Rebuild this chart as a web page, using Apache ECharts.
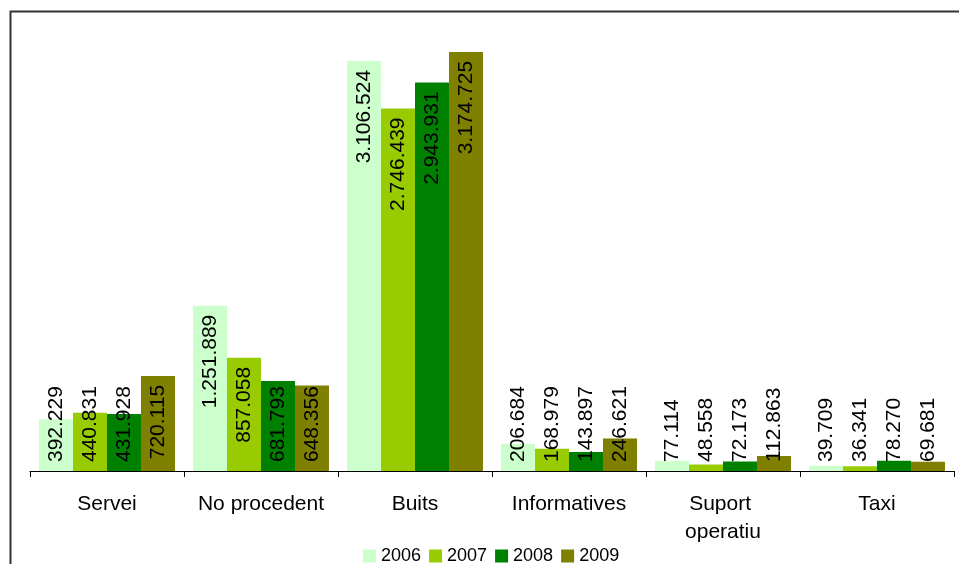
<!DOCTYPE html>
<html>
<head>
<meta charset="utf-8">
<script src="https://cdn.jsdelivr.net/npm/echarts@6/dist/echarts.min.js"></script>
<style>
html,body{margin:0;padding:0;background:#fff;}
#chart{width:959px;height:564px;}
</style>
</head>
<body>
<div id="chart"></div>
<script>
const categories = ['Servei', 'No procedent', 'Buits', 'Informatives', 'Suport operatiu', 'Taxi'];
const seriesNames = ['2006', '2007', '2008', '2009'];
const values2006 = [392229, 1251889, 3106524, 206684, 77114, 39709];
const values2007 = [440831, 857058, 2746439, 168979, 48558, 36341];
const values2008 = [431928, 681793, 2943931, 143897, 72173, 78270];
const values2009 = [720115, 648356, 3174725, 246621, 112863, 69681];
const colors = ['#CCFFCC', '#99CC00', '#008000', '#808000'];

const allValues = [values2006, values2007, values2008, values2009];

function fmt(v) {
  return String(v).replace(/\B(?=(\d{3})+(?!\d))/g, '.');
}

function makeData(arr) {
  return arr.map(function (v) {
    const tall = v > 700000;
    return {
      value: v,
      label: tall
        ? { position: 'insideTop', align: 'right', verticalAlign: 'middle', distance: 9 }
        : { position: 'insideBottom', align: 'left', verticalAlign: 'middle', distance: 9 }
    };
  });
}

const chart = echarts.init(document.getElementById('chart'), null, { renderer: 'canvas' });

const option = {
  animation: false,
  backgroundColor: '#ffffff',
  textStyle: { fontFamily: 'Liberation Sans, Arial, sans-serif' },
  grid: { left: 30, right: 5, top: 9, bottom: 93, containLabel: false },
  legend: {
    data: seriesNames,
    top: 547,
    left: 363,
    padding: 0,
    itemWidth: 13,
    itemHeight: 13,
    itemGap: 8,
    icon: 'rect',
    textStyle: { fontSize: 18, color: '#000', fontFamily: 'Liberation Sans, Arial, sans-serif' }
  },
  xAxis: {
    type: 'category',
    data: categories,
    axisLine: { lineStyle: { color: '#000', width: 1 } },
    axisTick: { show: true, length: 6, lineStyle: { color: '#000' } },
    axisLabel: {
      color: '#000',
      fontSize: 21,
      margin: 19,
      lineHeight: 28,
      width: 140,
      overflow: 'break',
      interval: 0
    }
  },
  yAxis: {
    type: 'value',
    min: 0,
    max: 3500000,
    show: false,
    splitLine: { show: false }
  },
  graphic: [{
    type: 'rect',
    shape: { x: 10.5, y: 11.5, width: 1000, height: 600 },
    style: { fill: 'none', stroke: '#333333', lineWidth: 2 },
    silent: true,
    z: 100
  }],
  series: seriesNames.map(function (name, i) {
    return {
      name: name,
      type: 'bar',
      data: makeData(allValues[i]),
      barGap: '0%',
      barCategoryGap: '11.7%',
      itemStyle: { color: colors[i] },
      label: {
        show: true,
        rotate: 90,
        color: '#000',
        fontSize: 21,
        fontFamily: 'Liberation Sans, Arial, sans-serif',
        formatter: function (p) { return fmt(p.value); }
      }
    };
  })
};

chart.setOption(option);
</script>
</body>
</html>
